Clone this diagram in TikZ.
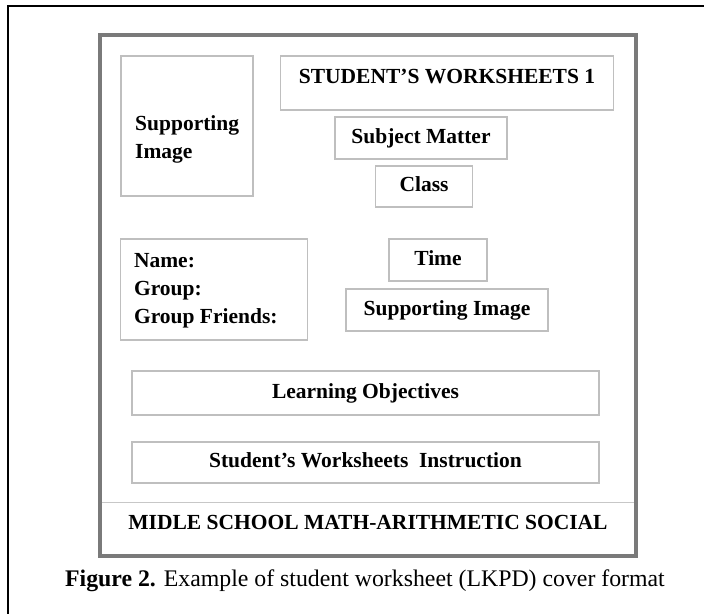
\documentclass[tikz,border=0pt]{standalone}
\usepackage{fontspec}
\setmainfont{Liberation Serif}
\usetikzlibrary{calc,positioning}

\begin{document}
\begin{tikzpicture}[
  x=1pt, y=-1pt,
  txt/.style={
    inner sep=0pt,
    font=\bfseries\fontsize{21.5}{28}\selectfont
  },
  slot/.style={
    txt,
    text height=15pt,
    text depth=4.5pt,
    draw=black!25,
    line width=1.3pt
  },
  sheet/.style={
    draw=black!52,
    line width=3.5pt,
    inner sep=0pt
  },
  rule/.style={
    draw=black!22,
    line width=1.2pt
  }
]
\useasboundingbox (0,0) rectangle (704,614);

% Page border, cut by the picture edge
\draw[line width=2pt] (704,6) -- (8,6) -- (8,614);

% Cover sheet
\coordinate (sepL) at (100,502.5);
\coordinate (sepR) at (636,502.5);
\draw[rule] (sepL) -- (sepR);
\node[sheet, minimum width=536pt, minimum height=521pt] (sheet) at (368,295.5) {};

% Left column
\node[slot, minimum width=132pt, minimum height=140pt] (pic) at (187,126) {};
\node[txt, anchor=west, align=left] (piclabel) at (135,139.5)
  {Supporting\\Image};

\node[slot, minimum width=187pt, minimum height=101pt] (names) at (214,289.5) {};
\node[txt, anchor=west, align=left, right=14pt of names.west, yshift=-1pt] (namelist)
  {Name:\\Group:\\Group Friends:};

% Right column
\node[slot, minimum width=333pt, minimum height=54pt] (title) at (447,83) {};
\node[txt, text height=15pt, text depth=4.5pt, below=13pt of title.north] (titlelabel)
  {STUDENT’S WORKSHEETS 1};

\node[slot, minimum width=172pt, minimum height=42pt] (subject) at (421,138)
  {Subject Matter};
\node[slot, minimum width=97pt, minimum height=41pt] (class) at (424,186.5)
  {Class};
\node[slot, minimum width=98pt, minimum height=42pt] (time) at (438,260)
  {Time};
\node[slot, minimum width=202pt, minimum height=42pt] (picright) at (447,310)
  {Supporting Image};

% Wide rows
\node[slot, minimum width=467pt, minimum height=44pt] (goals) at (365.5,393)
  {Learning Objectives};
\node[slot, minimum width=467pt, minimum height=41pt] (steps) at (365.5,462.5)
  {Student’s Worksheets\ \ Instruction};

% Footer
\node[txt, text height=15pt, text depth=4.5pt] (school) at (368,524)
  {MIDLE SCHOOL MATH-ARITHMETIC SOCIAL};

\node[txt, font=\fontsize{23.8}{28}\selectfont] (caption) at (365,581)
  {\textbf{Figure 2.} Example of student worksheet (LKPD) cover format};
\end{tikzpicture}
\end{document}
